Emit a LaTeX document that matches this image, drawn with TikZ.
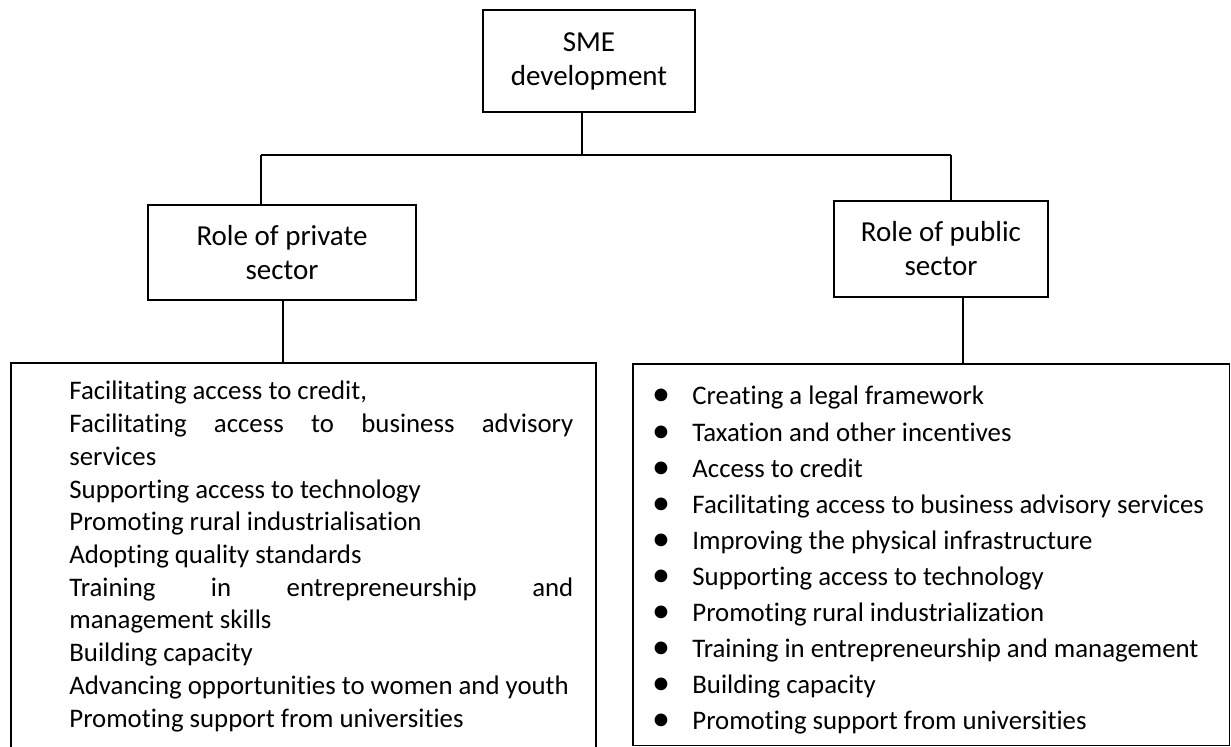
\documentclass[tikz,border=0pt]{standalone}
\usepackage{fontspec}
\setmainfont{Carlito}[Ligatures={NoCommon,NoContextual,NoRare},Contextuals=NoAlternate]
\usetikzlibrary{positioning}

\tikzset{
  block/.style={draw, line width=0.75pt, align=center, inner sep=0pt,
    font=\fontsize{14.5}{17}\selectfont},
  listbox/.style={draw, line width=0.75pt, inner sep=0pt},
  link/.style={line width=0.7pt},
  entry/.style={anchor=base west, inner sep=0pt, font=\fontsize{13.4}{16}\selectfont},
  dot/.style={anchor=base, inner sep=0pt, font=\fontsize{18}{18}\selectfont},
}
% a justified line: spaces stretched to the full column
\newcommand\spreadline[1]{\makebox[252pt][s]{#1}}

\begin{document}
\begin{tikzpicture}[x=0.5pt,y=-0.5pt]
\useasboundingbox (0,0) rectangle (1231,747);
\clip (0,0) rectangle (1231,747);

% boxes
\node[block, minimum width=106pt, minimum height=51pt] (sme) at (589,61) {SME\\development};
\node[block, minimum width=134pt, minimum height=47.5pt] (private) at (282,252.5) {Role of private\\sector};
\node[block, minimum width=107pt, minimum height=48pt] (public) at (941,249) {Role of public\\sector};

\node[listbox, minimum width=292.5pt, minimum height=194.5pt] (privlist) at (303.5,557.5) {};
\node[listbox, minimum width=298.25pt, minimum height=190.75pt] (publist) at (931.25,554.75) {};

% tree lines
\coordinate (bus) at (582,155);
\coordinate (busL) at (261,155);
\coordinate (busR) at (951,155);

\draw[link] ([xshift=-3.5pt]sme.south) -- (bus);
\draw[link] (busL) -- (busR);
\draw[link] (busL) -- (busL |- private.north);
\draw[link] (busR) -- (busR |- public.north);
\draw[link] ([xshift=0.5pt]private.south) -- ([xshift=0.5pt]private.south |- privlist.north);
\draw[link] ([xshift=11pt]public.south) -- ([xshift=11pt]public.south |- publist.north);

% private sector list
\foreach \txt [count=\i from 0] in {
  {Facilitating access to credit,},
  {\spreadline{Facilitating access to business advisory}},
  services,
  Supporting access to technology,
  Promoting rural industrialisation,
  Adopting quality standards,
  {\spreadline{Training in entrepreneurship and}},
  management skills,
  Building capacity,
  Advancing opportunities to women and youth,
  Promoting support from universities}
  \node[entry] (priv\i) at (69,{400+32.7*\i}) {\txt};

% public sector list
\foreach \txt [count=\i from 0] in {
  Creating a legal framework,
  Taxation and other incentives,
  Access to credit,
  Facilitating access to business advisory services,
  Improving the physical infrastructure,
  Supporting access to technology,
  Promoting rural industrialization,
  Training in entrepreneurship and management,
  Building capacity,
  Promoting support from universities}
{
  \node[dot] (bul\i) at (661,{406+36.1*\i}) {\textbullet};
  \node[entry] (pub\i) at (692,{405+36.1*\i}) {\txt};
}

\end{tikzpicture}
\end{document}
